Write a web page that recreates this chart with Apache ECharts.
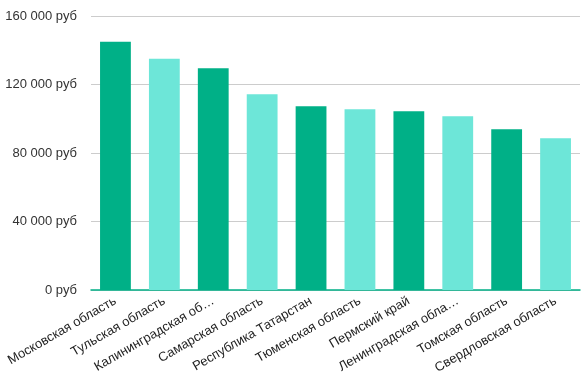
<!DOCTYPE html>
<html>
<head>
	<meta charset="utf-8">
	<title>Регионы</title>
	<script src="https://cdn.jsdelivr.net/npm/echarts@6/dist/echarts.min.js"></script>
	<style type="text/css">
		html, body { margin: 0; padding: 0; background: #fff; }
		#chart_box { width: 587px; height: 377px; }
	</style>
</head>
<body>
	<div id="chart_box"></div>
<script type="text/javascript">
	// регионы (подписи как на картинке, длинные обрезаны)
	var regions = ['Московская область', 'Тульская область', 'Калининградская об…', 'Самарская область',
		'Республика Татарстан', 'Тюменская область', 'Пермский край', 'Ленинградская обла…',
		'Томская область', 'Свердловская область'];
	var salary = [145000, 135000, 129500, 114300, 107300, 105500, 104400, 101400, 93800, 88600];
	var yTicks = [0, 40000, 80000, 120000, 160000];

	var darkGreen = '#00b087';
	var lightGreen = '#6de6d8';

	var chart = echarts.init(document.getElementById('chart_box'), null, {renderer: 'canvas'});

	var barData = [];
	for (var i = 0; i < salary.length; i++) {
		barData.push({
			value: salary[i],
			itemStyle: { color: i % 2 == 0 ? darkGreen : lightGreen }
		});
	}

	function fmtRub(v) {
		return String(v).replace(/\B(?=(\d{3})+(?!\d))/g, ' ') + ' руб';
	}

	var option = {
		animation: false,
		textStyle: { fontFamily: 'Liberation Sans, Arial, sans-serif' },
		grid: { left: 91, right: 7, top: 16, bottom: 87 },
		xAxis: {
			type: 'category',
			data: regions,
			axisLine: { show: true, lineStyle: { color: darkGreen, width: 1.5 } },
			axisTick: { show: false },
			axisLabel: {
				interval: 0,
				rotate: 30,
				fontSize: 13,
				color: '#222',
				margin: 10
			}
		},
		yAxis: {
			type: 'value',
			min: yTicks[0],
			max: yTicks[yTicks.length - 1],
			interval: 40000,
			axisLine: { show: false },
			axisTick: { show: false },
			splitLine: { lineStyle: { color: '#cccccc', width: 1 } },
			axisLabel: {
				fontSize: 13,
				color: '#333',
				margin: 14,
				formatter: fmtRub
			}
		},
		series: [{
			type: 'bar',
			barWidth: '63%',
			data: barData
		}]
	};
	chart.setOption(option);
</script>
</body>
</html>
